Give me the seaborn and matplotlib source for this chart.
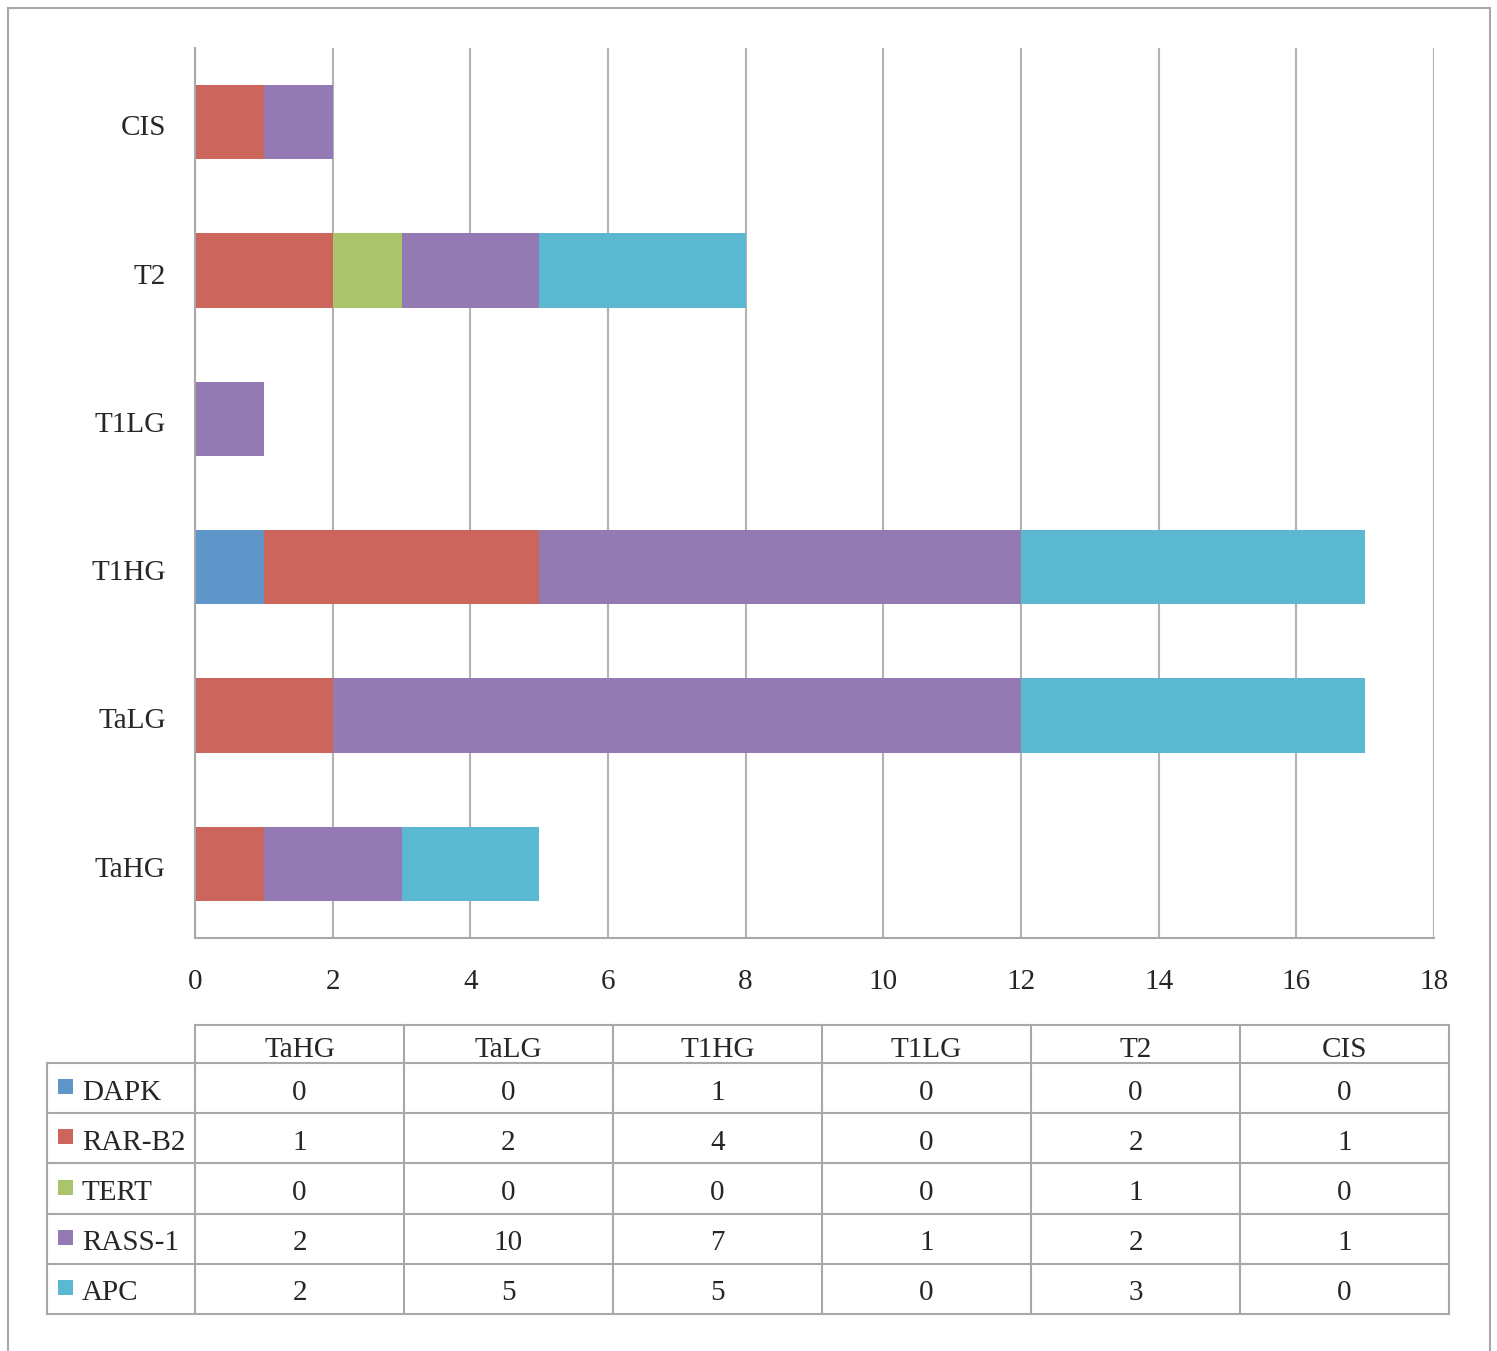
import pandas as pd
import seaborn as sns
import matplotlib.pyplot as plt
import matplotlib.transforms as mtransforms
from matplotlib.patches import Rectangle

stages = ['TaHG', 'TaLG', 'T1HG', 'T1LG', 'T2', 'CIS']
genes = ['DAPK', 'RAR-B2', 'TERT', 'RASS-1', 'APC']
dapk = [0, 0, 1, 0, 0, 0]
rarb2 = [1, 2, 4, 0, 2, 1]
tert = [0, 0, 0, 0, 1, 0]
rass1 = [2, 10, 7, 1, 2, 1]
apc = [2, 5, 5, 0, 3, 0]
gene_colors = ['#5F95C9', '#CC655C', '#AAC46C', '#937AB3', '#5BB8D1']

sns.set_style('white')
plt.rcParams['font.family'] = ['Liberation Serif', 'DejaVu Serif']
plt.rcParams['font.size'] = 21

W, H = 1497, 1351
def box(x0, y0, x1, y1):
    return [x0 / W, 1 - y1 / H, (x1 - x0) / W, (y1 - y0) / H]

fig = plt.figure(figsize=(W / 100, H / 100), dpi=100)
line_gray = '#A8A8A8'

# stacked bars: draw cumulative totals, biggest first
counts = pd.DataFrame({'DAPK': dapk, 'RAR-B2': rarb2, 'TERT': tert,
                       'RASS-1': rass1, 'APC': apc}, index=stages)
cum = counts.cumsum(axis=1)
order = stages[::-1]

ax = fig.add_axes(box(195, 48, 1434, 938))
for gene, col in reversed(list(zip(genes, gene_colors))):
    d = pd.DataFrame({'stage': stages, 'value': cum[gene].values})
    sns.barplot(data=d, x='value', y='stage', order=order, color=col,
                saturation=1, width=0.5, linewidth=0, ax=ax)

ax.set_xlim(0, 18)
ax.set_xticks(range(0, 19, 2))
ax.set_xlabel('')
ax.set_ylabel('')
ax.set_axisbelow(True)
ax.grid(axis='x', color='#B3B3B3', linewidth=1.5)
ax.grid(axis='y', visible=False)
for s in ['top', 'right']:
    ax.spines[s].set_visible(False)
for s in ['left', 'bottom']:
    ax.spines[s].set_color(line_gray)
    ax.spines[s].set_linewidth(1.5)
ax.tick_params(axis='y', length=0, pad=21, labelsize=21)
ax.tick_params(axis='x', length=0, pad=22, labelsize=21)
shift = mtransforms.ScaledTranslation(0, -3 / 100, fig.dpi_scale_trans)
for lab in ax.get_yticklabels():
    lab.set_transform(lab.get_transform() + shift)

# data table under the chart
lab_w = 148 / 209
head_h = 38 / 50
tax = fig.add_axes(box(47, 1025, 1449, 1314))
tax.set_xlim(-lab_w, len(stages))
tax.set_ylim(len(genes), -head_h)
tax.axis('off')
kw = dict(color=line_gray, linewidth=1.5, clip_on=False, solid_capstyle='projecting')
tax.plot([0, len(stages)], [-head_h, -head_h], **kw)
for j in range(len(genes) + 1):
    tax.plot([-lab_w, len(stages)], [j, j], **kw)
tax.plot([-lab_w, -lab_w], [0, len(genes)], **kw)
for i in range(len(stages) + 1):
    tax.plot([i, i], [-head_h, len(genes)], **kw)

for i, st in enumerate(stages):
    tax.text(i + 0.5, -head_h / 2 + 0.06, st, ha='center', va='center_baseline', fontsize=21)
for j, (gene, col) in enumerate(zip(genes, gene_colors)):
    tax.add_patch(Rectangle((-lab_w + 0.053, j + 0.32), 0.072, 0.3,
                            facecolor=col, edgecolor='none', clip_on=False))
    tax.text(-lab_w + 0.167, j + 0.53, gene, ha='left', va='center_baseline', fontsize=21)
    for i in range(len(stages)):
        tax.text(i + 0.5, j + 0.53, str(counts.loc[stages[i], gene]),
                 ha='center', va='center_baseline', fontsize=21)

# outer frame (bottom edge runs past the picture)
fig.add_artist(Rectangle((8 / W, -0.02), (1490 - 8) / W, 1.02 - 8 / H,
                         transform=fig.transFigure, facecolor='none',
                         edgecolor=line_gray, linewidth=1.5))

fig.savefig('out.png', dpi=100)
